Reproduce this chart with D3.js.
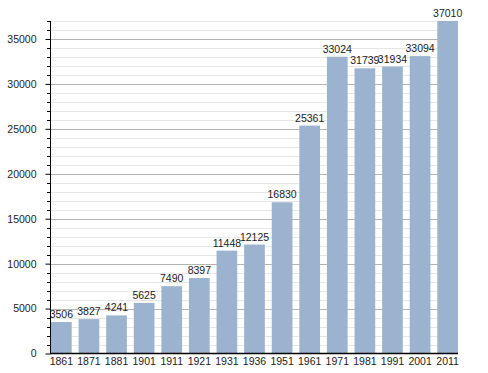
<!DOCTYPE html>
<html>
<head>
<meta charset="utf-8">
<script src="https://cdn.jsdelivr.net/npm/d3@7"></script>
<style>
  body { margin: 0; background: #fff; }
  text { font-family: "Liberation Sans", Arial, sans-serif; fill: #222; }
</style>
</head>
<body>
<div class="canvas"></div>
<script>
// data
const years = ['1861', '1871', '1881', '1901', '1911', '1921', '1931', '1936',
    '1951', '1961', '1971', '1981', '1991', '2001', '2011'];
const population = [3506, 3827, 4241, 5625, 7490, 8397, 11448, 12125,
    16830, 25361, 33024, 31739, 31934, 33094, 37010];
const yTicks = [0, 5000, 10000, 15000, 20000, 25000, 30000, 35000];

const width = 488, height = 373;
const plotLeft = 50, plotRight = 458, plotTop = 21, plotBottom = 353.5;
const fontSize = '10.5px';

const svg = d3.select('.canvas')
    .append('svg')
    .attr('width', width)
    .attr('height', height);

// scales
const y = d3.scaleLinear()
    .domain([0, 37000])
    .range([plotBottom, plotTop]);

const x = d3.scaleBand()
    .domain(years)
    .range([plotLeft + 1, plotRight])
    .paddingInner(0.25)
    .paddingOuter(0);

// minor grid every 1000
const minor = d3.range(1000, 37001, 1000).filter(v => v % 5000 !== 0);
svg.append('g').selectAll('line')
    .data(minor)
    .enter().append('line')
    .attr('x1', plotLeft).attr('x2', plotRight)
    .attr('y1', d => Math.round(y(d)) + 0.5)
    .attr('y2', d => Math.round(y(d)) + 0.5)
    .attr('stroke', '#e6e6e6');

// major grid
svg.append('g').selectAll('line')
    .data(yTicks.slice(1))
    .enter().append('line')
    .attr('x1', plotLeft).attr('x2', plotRight)
    .attr('y1', d => Math.round(y(d)) + 0.5)
    .attr('y2', d => Math.round(y(d)) + 0.5)
    .attr('stroke', '#b4b4b4');

// bars
svg.append('g').selectAll('rect')
    .data(population)
    .enter().append('rect')
    .attr('x', (d, i) => x(years[i]))
    .attr('width', x.bandwidth())
    .attr('y', d => y(d))
    .attr('height', d => plotBottom - y(d))
    .attr('fill', '#9bb3cf');

// value labels
svg.append('g').selectAll('text')
    .data(population)
    .enter().append('text')
    .attr('x', (d, i) => x(years[i]) + x.bandwidth() / 2)
    .attr('y', d => y(d) - 4)
    .attr('text-anchor', 'middle')
    .style('font-size', fontSize)
    .text(d => d);

// y axis
const yAxis = d3.axisLeft(y)
    .tickValues(yTicks)
    .tickSize(5)
    .tickPadding(9)
    .tickFormat(d => d);
const yAxisGroup = svg.append('g')
    .attr('transform', `translate(${plotLeft + 0.5},0)`)
    .call(yAxis);
yAxisGroup.select('.domain').attr('stroke', '#000').attr('d', `M0,${plotTop}V${plotBottom}`);
yAxisGroup.selectAll('text').style('font-size', fontSize);

// minor ticks on y axis
svg.append('g').selectAll('line')
    .data(minor)
    .enter().append('line')
    .attr('x1', plotLeft - 3).attr('x2', plotLeft)
    .attr('y1', d => Math.round(y(d)) + 0.5)
    .attr('y2', d => Math.round(y(d)) + 0.5)
    .attr('stroke', '#000');

// x axis
const xAxis = d3.axisBottom(x).tickSize(0).tickPadding(4);
const xAxisGroup = svg.append('g')
    .attr('transform', `translate(0,${plotBottom})`)
    .call(xAxis);
xAxisGroup.select('.domain').attr('stroke', '#000').attr('stroke-width', 1.5)
    .attr('d', `M${plotLeft},0H${plotRight}`);
xAxisGroup.selectAll('text').style('font-size', fontSize);
</script>
</body>
</html>
